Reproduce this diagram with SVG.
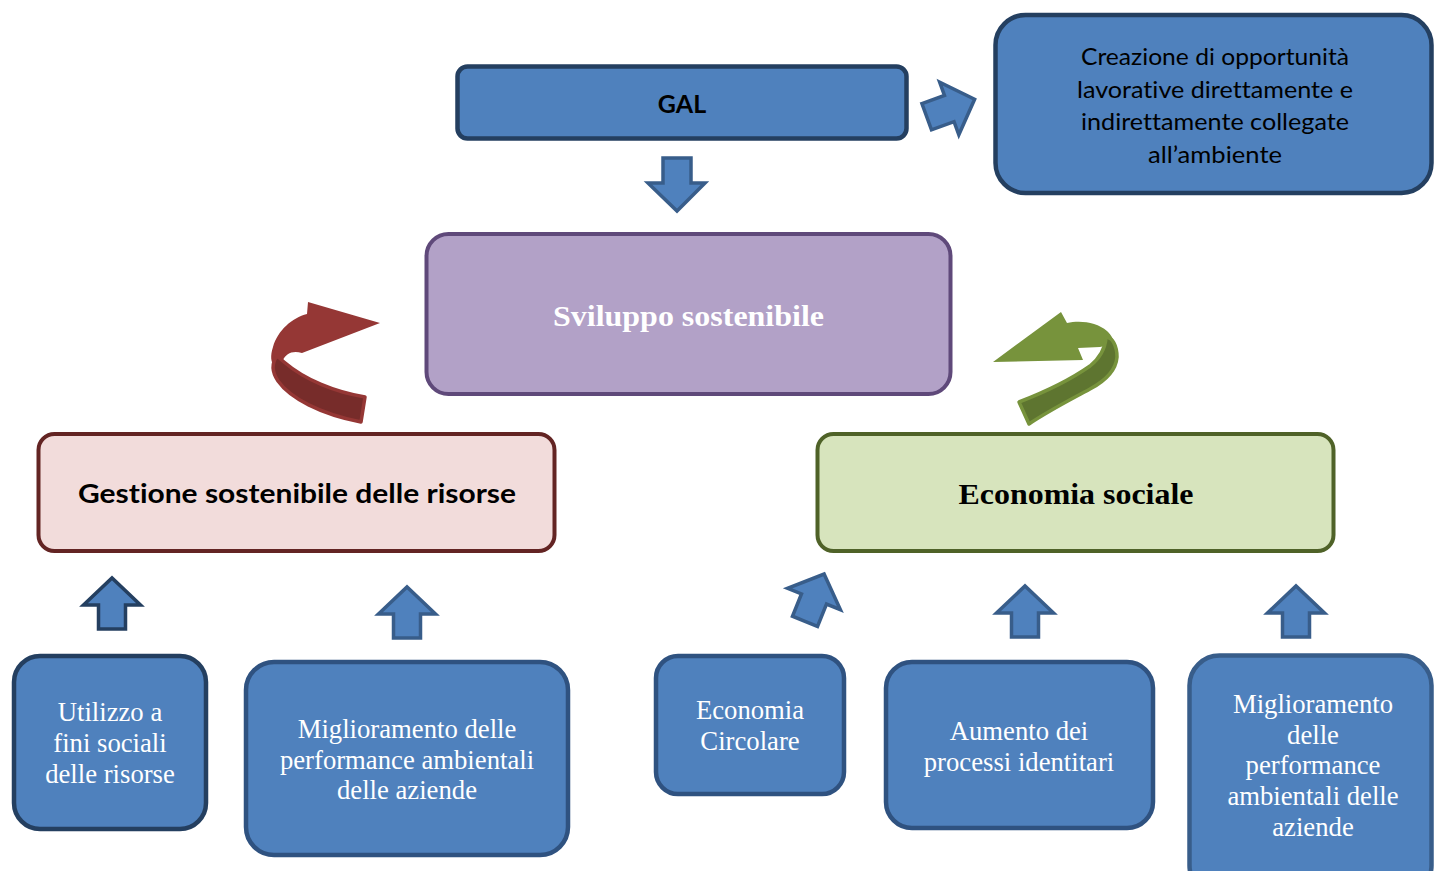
<svg xmlns="http://www.w3.org/2000/svg" width="1434" height="871" viewBox="0 0 1434 871">
<defs>
<style>
.blue{fill:#4f81bd;stroke:#243f60;stroke-width:4.5}
.mid{stroke:#2f5280}
.arr{fill:#4f81bd;stroke:#385d8a;stroke-width:3.5;stroke-linejoin:miter}
.arrd{fill:#4f81bd;stroke:#243f60;stroke-width:3.5;stroke-linejoin:miter}
.cal{font-family:Lato,"Open Sans","Liberation Sans",sans-serif;fill:#000;text-anchor:middle;font-variant-ligatures:none;font-feature-settings:"liga" 0,"clig" 0}
.ser{font-family:"Liberation Serif","Times New Roman",serif;text-anchor:middle}
.wt{fill:#fff;font-size:26.7px}
</style>
<path id="up" d="M0,0 L-13.5,0 L-13.5,-24 L-28.5,-24 L0,-51 L28.5,-24 L13.5,-24 L13.5,0 Z"/>
</defs>
<rect width="1434" height="871" fill="#fff"/>

<g id="connectors">
  <path class="arr" transform="translate(926.7,116.7) rotate(-20)" d="M0,-14 L24,-14 L24,-28 L51,0 L24,28 L24,14 L0,14 Z"/>
  <path class="arr" d="M663,158 L691,158 L691,183 L705,183 L677,211 L648,183 L663,183 Z"/>
  <g id="red-curve">
    <path fill="#953735" d="M380,323 L308,302 L307,314 C292,318 278,330 273,347 C270,356 271,362 274,366 L283,360 C286,354 292,350 302,353 Z"/>
    <path fill="#772c2a" stroke="#953735" stroke-width="3.5" stroke-linejoin="round" d="M277,356 C271,364 272,372 278,381 C290,398 320,414 361,422 L365,397 C335,392 305,380 284,362 Z"/>
  </g>
  <g id="green-curve">
    <path fill="#77933c" d="M993,362 L1061,312 L1067,323 C1080,320 1097,322 1107,331 C1112,336 1114,340 1114,344 L1100,347 L1078,348 L1083,360 Z"/>
    <path fill="#5e7530" stroke="#77933c" stroke-width="3.5" stroke-linejoin="round" d="M1106,338 C1112,336 1117,346 1117,357 C1116,370 1105,381 1090,389 C1070,400 1050,410 1029,424 L1019,402 C1045,392 1070,380 1090,366 C1100,358 1105,349 1106,338 Z"/>
  </g>
  <use href="#up" class="arrd" transform="translate(112,629)"/>
  <use href="#up" class="arr" transform="translate(407,638)"/>
  <use href="#up" class="arr" transform="translate(1025,637)"/>
  <use href="#up" class="arr" transform="translate(1296,637)"/>
  <use href="#up" class="arr" transform="translate(805,621.3) rotate(22)"/>
</g>

<g id="gal">
  <rect class="blue" x="457.5" y="66.5" width="449" height="72" rx="10"/>
  <text class="cal" x="682" y="113" font-size="25" font-weight="bold">GAL</text>
</g>

<g id="creazione">
  <rect class="blue" x="995.5" y="15" width="436" height="178" rx="30"/>
  <text class="cal" font-size="23.5" x="1215" y="65" textLength="268" lengthAdjust="spacingAndGlyphs">Creazione di opportunità</text>
  <text class="cal" font-size="23.5" x="1215" y="98" textLength="276" lengthAdjust="spacingAndGlyphs">lavorative direttamente e</text>
  <text class="cal" font-size="23.5" x="1215" y="130" textLength="268" lengthAdjust="spacingAndGlyphs">indirettamente collegate</text>
  <text class="cal" font-size="23.5" x="1215" y="163" textLength="134" lengthAdjust="spacingAndGlyphs">all’ambiente</text>
</g>

<g id="sviluppo">
  <rect x="426.5" y="234" width="524" height="160" rx="22" fill="#b2a1c7" stroke="#5f497a" stroke-width="4"/>
  <text class="ser" x="688.5" y="326" font-size="30" font-weight="bold" fill="#fff" textLength="271" lengthAdjust="spacingAndGlyphs">Sviluppo sostenibile</text>
</g>

<g id="gestione">
  <rect x="38.5" y="434" width="516" height="117" rx="16" fill="#f2dcdb" stroke="#632423" stroke-width="4"/>
  <text class="cal" x="297" y="503" font-size="26" font-weight="bold" textLength="438" lengthAdjust="spacingAndGlyphs">Gestione sostenibile delle risorse</text>
</g>

<g id="economia-sociale">
  <rect x="817.5" y="434" width="516" height="117" rx="16" fill="#d7e4bd" stroke="#4f6228" stroke-width="4"/>
  <text class="ser" x="1076" y="504" font-size="30" font-weight="bold" fill="#000" textLength="235" lengthAdjust="spacingAndGlyphs">Economia sociale</text>
</g>

<g id="utilizzo">
  <rect class="blue" x="14" y="656" width="192" height="173" rx="26" stroke-width="5"/>
  <text class="ser wt" x="110" y="721">Utilizzo a</text>
  <text class="ser wt" x="110" y="752">fini sociali</text>
  <text class="ser wt" x="110" y="783">delle risorse</text>
</g>

<g id="miglioramento-1">
  <rect class="blue mid" x="246" y="662" width="322" height="193" rx="28" stroke-width="5"/>
  <text class="ser wt" x="407" y="738">Miglioramento delle</text>
  <text class="ser wt" x="407" y="769">performance ambientali</text>
  <text class="ser wt" x="407" y="799">delle aziende</text>
</g>

<g id="economia-circolare">
  <rect class="blue mid" x="656" y="656" width="188" height="138" rx="22" stroke-width="5"/>
  <text class="ser wt" x="750" y="719">Economia</text>
  <text class="ser wt" x="750" y="750">Circolare</text>
</g>

<g id="aumento">
  <rect class="blue mid" x="886" y="662" width="267" height="166" rx="26" stroke-width="5"/>
  <text class="ser wt" x="1019" y="740">Aumento dei</text>
  <text class="ser wt" x="1019" y="771">processi identitari</text>
</g>

<g id="miglioramento-2">
  <rect class="blue" x="1189.5" y="655.5" width="242" height="240" rx="30" stroke-width="5" style="stroke:#385d8a"/>
  <text class="ser wt" x="1313" y="713">Miglioramento</text>
  <text class="ser wt" x="1313" y="744">delle</text>
  <text class="ser wt" x="1313" y="774">performance</text>
  <text class="ser wt" x="1313" y="805">ambientali delle</text>
  <text class="ser wt" x="1313" y="836">aziende</text>
</g>
</svg>
